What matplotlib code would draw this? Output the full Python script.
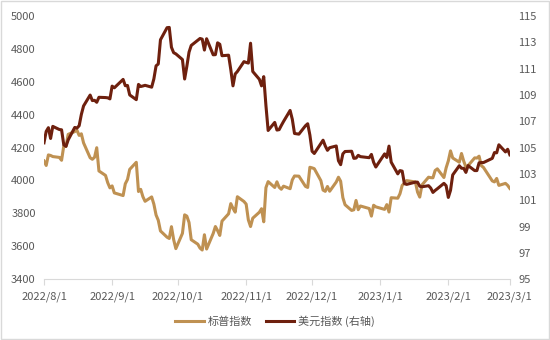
import matplotlib
matplotlib.use('Agg')
import matplotlib.pyplot as plt
import matplotlib.dates as mdates
from matplotlib.patches import Rectangle
import pandas as pd

plt.rcParams['font.family'] = ['Noto Sans CJK SC', 'DejaVu Sans']

# US trading days, 2022/8/1 - 2023/3/1
holidays = ['2022-09-05', '2022-11-24', '2022-12-26', '2023-01-02',
            '2023-01-16', '2023-02-20']
dates = pd.bdate_range('2022-08-01', '2023-03-01')
dates = dates[~dates.isin(pd.to_datetime(holidays))]

spx = [
    # Aug
    4118.6, 4091.2, 4155.2, 4151.9, 4145.2, 4140.1, 4122.5, 4210.2, 4207.3, 4280.2,
    4297.1, 4305.2, 4274.0, 4283.7, 4228.5, 4138.0, 4128.7, 4140.8, 4199.1, 4057.7,
    4030.6, 3986.2, 3955.0,
    # Sep
    3966.9, 3924.3, 3908.2, 3979.9, 4006.2, 4067.4, 4110.4, 3932.7, 3946.0, 3901.4,
    3873.3, 3899.9, 3855.9, 3789.9, 3758.0, 3693.2, 3655.0, 3647.3, 3719.0, 3640.5,
    3585.6,
    # Oct
    3678.4, 3790.9, 3783.3, 3744.5, 3639.7, 3612.4, 3588.8, 3577.0, 3669.9, 3583.1,
    3677.9, 3720.0, 3695.2, 3665.8, 3752.8, 3797.3, 3859.1, 3830.6, 3807.3, 3901.1,
    3872.0,
    # Nov
    3856.1, 3759.7, 3719.9, 3770.6, 3806.8, 3828.1, 3748.6, 3956.4, 3992.9, 3957.3,
    3991.7, 3958.8, 3946.6, 3965.3, 3949.9, 4003.6, 4027.3, 4026.1, 3963.9, 3957.6,
    4080.1,
    # Dec
    4076.6, 4071.7, 3998.8, 3941.3, 3933.9, 3963.5, 3934.4, 3990.6, 4019.7, 3995.3,
    3895.8, 3852.4, 3817.7, 3821.6, 3878.4, 3822.4, 3844.8, 3829.3, 3783.2, 3849.3,
    3839.5,
    # Jan
    3824.1, 3853.0, 3808.1, 3895.1, 3892.1, 3919.3, 3969.6, 3983.2, 3999.1, 3991.0,
    3928.9, 3898.9, 3972.6, 4019.8, 4017.0, 4016.2, 4060.4, 4070.6, 4017.8, 4076.6,
    # Feb
    4119.2, 4179.8, 4136.5, 4111.1, 4164.0, 4117.9, 4081.5, 4090.5, 4137.3, 4136.1,
    4147.6, 4090.4, 4079.1, 3997.3, 3991.1, 4012.3, 3970.0, 3982.2, 3970.2,
    # Mar
    3951.4,
]

dxy = [
    # Aug
    105.36, 106.23, 106.51, 105.69, 106.61, 106.37, 106.35, 105.21, 105.09, 105.58,
    106.53, 106.48, 106.66, 107.52, 108.16, 108.99, 108.57, 108.59, 108.44, 108.82,
    108.80, 108.78, 108.70,
    # Sep
    109.67, 109.54, 110.18, 109.70, 109.72, 109.00, 108.64, 109.80, 109.64, 109.68,
    109.73, 109.59, 110.22, 111.21, 111.35, 113.19, 114.11, 114.13, 112.62, 112.21,
    112.12,
    # Oct
    111.69, 110.21, 111.17, 112.25, 112.76, 113.15, 113.29, 113.24, 112.41, 113.27,
    112.05, 112.06, 112.96, 112.85, 111.98, 112.02, 110.93, 109.69, 110.59, 110.78,
    111.53,
    # Nov
    111.47, 111.42, 112.93, 110.78, 110.19, 109.69, 110.39, 108.19, 106.30, 106.91,
    106.33, 106.36, 106.68, 106.98, 107.82, 107.15, 106.07, 106.02, 106.66, 106.81,
    105.95,
    # Dec
    104.72, 104.55, 105.30, 105.56, 105.12, 104.79, 104.99, 105.12, 104.00, 103.70,
    104.52, 104.70, 104.72, 104.18, 104.20, 104.41, 104.31, 104.23, 104.48, 103.88,
    103.52,
    # Jan
    104.52, 104.25, 105.11, 103.89, 103.00, 103.25, 103.21, 102.27, 102.20, 102.37,
    102.37, 102.06, 102.02, 102.10, 101.92, 101.59, 101.74, 101.87, 102.28, 102.10,
    # Feb
    101.21, 101.75, 102.92, 103.62, 103.43, 103.42, 103.11, 103.63, 103.25, 103.25,
    103.84, 103.86, 103.86, 104.18, 104.62, 104.60, 105.21, 104.67, 104.87,
    # Mar
    104.45,
]

month_ticks = pd.date_range('2022-08-01', '2023-03-01', freq='MS')
left_ticks = [3400, 3600, 3800, 4000, 4200, 4400, 4600, 4800, 5000]
right_ticks = [95, 97, 99, 101, 103, 105, 107, 109, 111, 113, 115]

spx_color = '#BF9152'
dxy_color = '#6E200E'
text_color = '#595959'
axis_color = '#D9D9D9'

fig = plt.figure(figsize=(5.5, 3.4), dpi=100)
ax = fig.add_axes([0.08, 0.179, 0.847, 0.774])
ax2 = ax.twinx()

l1, = ax.plot(dates, spx, color=spx_color, lw=2.2, label='标普指数')
l2, = ax2.plot(dates, dxy, color=dxy_color, lw=2.2, label='美元指数 (右轴)')

ax.set_xlim(month_ticks[0], month_ticks[-1])
ax.set_ylim(3400, 5000)
ax2.set_ylim(95, 115)
ax.set_yticks(left_ticks)
ax2.set_yticks(right_ticks)
ax.set_xticks(month_ticks)
ax.xaxis.set_major_formatter(
    matplotlib.ticker.FuncFormatter(lambda v, p: '{d.year}/{d.month}/{d.day}'.format(d=mdates.num2date(v))))

for a in (ax, ax2):
    for s in ('top', 'left', 'right'):
        a.spines[s].set_visible(False)
    a.spines['bottom'].set_color(axis_color)
    a.tick_params(axis='y', length=0, labelsize=8, labelcolor=text_color, pad=6)
ax2.spines['bottom'].set_visible(False)
ax.tick_params(axis='x', length=4, color=axis_color, labelsize=8,
               labelcolor=text_color, pad=5)

fig.legend(handles=[l1, l2], loc='center', bbox_to_anchor=(0.5, 0.055), ncol=2,
           frameon=False, fontsize=8, labelcolor=text_color, handlelength=2.6,
           handletextpad=0.3, columnspacing=1.2)

# thin frame around the whole chart
fig.patches.append(Rectangle((0.002, 0.003), 0.996, 0.994, transform=fig.transFigure,
                             fill=False, edgecolor=axis_color, lw=1))

fig.savefig('out.png', dpi=100)
